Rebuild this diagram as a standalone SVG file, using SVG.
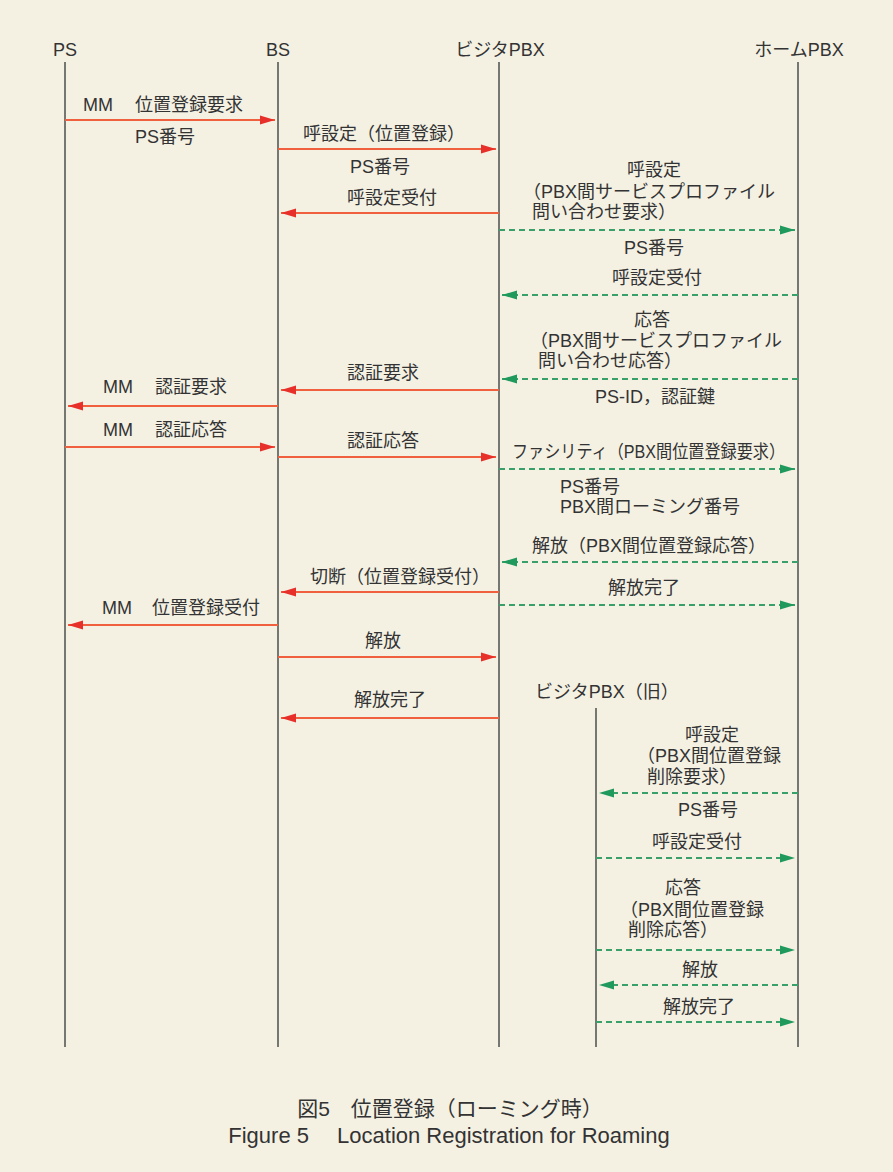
<svg xmlns="http://www.w3.org/2000/svg" width="893" height="1172" viewBox="0 0 893 1172">
<style>
text{font-family:"Liberation Sans","Noto Sans CJK JP",sans-serif;font-size:18px;fill:#333}
.cap{font-size:21px;text-anchor:middle}
.life{stroke:#555a55;stroke-width:1.6;fill:none}
.r{stroke:#f0603e;stroke-width:2;fill:none;marker-end:url(#ar)}
.g{stroke:#3aa06a;stroke-width:1.8;stroke-dasharray:6 4;fill:none;marker-end:url(#ag)}
</style>
<defs>
<marker id="ar" markerUnits="userSpaceOnUse" markerWidth="15" markerHeight="10" refX="15" refY="5" orient="auto"><path d="M0,0.5 L15,5 L0,9.5 z" fill="#e8302a"/></marker>
<marker id="ag" markerUnits="userSpaceOnUse" markerWidth="15" markerHeight="10" refX="15" refY="5" orient="auto"><path d="M0,0.5 L15,5 L0,9.5 z" fill="#1f9a5c"/></marker>
</defs>
<rect width="893" height="1172" fill="#f4f1e3"/>

<g id="ps"><text x="65" y="56" text-anchor="middle">PS</text><line class="life" x1="65" y1="62" x2="65" y2="1047"/></g>
<g id="bs"><text x="278" y="56" text-anchor="middle">BS</text><line class="life" x1="278" y1="62" x2="278" y2="1047"/></g>
<g id="vpbx"><text x="500" y="56" text-anchor="middle">ビジタPBX</text><line class="life" x1="499" y1="62" x2="499" y2="1047"/></g>
<g id="hpbx"><text x="799" y="56" text-anchor="middle">ホームPBX</text><line class="life" x1="798" y1="62" x2="798" y2="1047"/></g>
<g id="oldpbx"><text x="535" y="698">ビジタPBX（旧）</text><line class="life" x1="596" y1="708" x2="596" y2="1047"/></g>

<g id="connectors">
<line class="r" x1="65" y1="120" x2="275" y2="120"/>
<line class="r" x1="278" y1="149" x2="496" y2="149"/>
<line class="r" x1="499" y1="213" x2="281" y2="213"/>
<line class="g" x1="499" y1="230" x2="795" y2="230"/>
<line class="g" x1="798" y1="295" x2="502" y2="295"/>
<line class="g" x1="798" y1="379" x2="502" y2="379"/>
<line class="r" x1="499" y1="390" x2="281" y2="390"/>
<line class="r" x1="278" y1="406" x2="68" y2="406"/>
<line class="r" x1="65" y1="447" x2="275" y2="447"/>
<line class="r" x1="278" y1="457" x2="496" y2="457"/>
<line class="g" x1="499" y1="469" x2="795" y2="469"/>
<line class="g" x1="798" y1="562" x2="502" y2="562"/>
<line class="r" x1="499" y1="592" x2="281" y2="592"/>
<line class="g" x1="499" y1="605" x2="795" y2="605"/>
<line class="r" x1="278" y1="625" x2="68" y2="625"/>
<line class="r" x1="278" y1="657" x2="496" y2="657"/>
<line class="r" x1="499" y1="718" x2="281" y2="718"/>
<line class="g" x1="798" y1="793" x2="599" y2="793"/>
<line class="g" x1="596" y1="858" x2="795" y2="858"/>
<line class="g" x1="596" y1="950" x2="795" y2="950"/>
<line class="g" x1="798" y1="985" x2="599" y2="985"/>
<line class="g" x1="596" y1="1022" x2="795" y2="1022"/>
</g>

<g id="labels">
<text x="83" y="111">MM</text><text x="135" y="111">位置登録要求</text>
<text x="135" y="143">PS番号</text>
<text x="303" y="140">呼設定（位置登録）</text>
<text x="380" y="173" text-anchor="middle">PS番号</text>
<text x="392" y="204" text-anchor="middle">呼設定受付</text>
<text x="654" y="176" text-anchor="middle">呼設定</text>
<text x="523" y="198">（PBX間サービスプロファイル</text>
<text x="532" y="218">問い合わせ要求）</text>
<text x="654" y="254" text-anchor="middle">PS番号</text>
<text x="657" y="284" text-anchor="middle">呼設定受付</text>
<text x="652" y="326" text-anchor="middle">応答</text>
<text x="530" y="347">（PBX間サービスプロファイル</text>
<text x="538" y="367">問い合わせ応答）</text>
<text x="595" y="403">PS-ID，認証鍵</text>
<text x="347" y="379">認証要求</text>
<text x="103" y="393">MM</text><text x="155" y="393">認証要求</text>
<text x="103" y="436">MM</text><text x="155" y="436">認証応答</text>
<text x="347" y="447">認証応答</text>
<text x="512" y="458" textLength="273" lengthAdjust="spacingAndGlyphs">ファシリティ（PBX間位置登録要求）</text>
<text x="560" y="493">PS番号</text>
<text x="560" y="513">PBX間ローミング番号</text>
<text x="532" y="552">解放（PBX間位置登録応答）</text>
<text x="310" y="583">切断（位置登録受付）</text>
<text x="608" y="594">解放完了</text>
<text x="102" y="614">MM</text><text x="152" y="614">位置登録受付</text>
<text x="365" y="647">解放</text>
<text x="354" y="706">解放完了</text>
<text x="685" y="741">呼設定</text>
<text x="637" y="762">（PBX間位置登録</text>
<text x="647" y="783">削除要求）</text>
<text x="678" y="816">PS番号</text>
<text x="652" y="848">呼設定受付</text>
<text x="665" y="894">応答</text>
<text x="620" y="916">（PBX間位置登録</text>
<text x="628" y="936">削除応答）</text>
<text x="682" y="976">解放</text>
<text x="663" y="1013">解放完了</text>
</g>

<g id="caption">
<text class="cap" x="450" y="1116">図5　位置登録（ローミング時）</text>
<text class="cap" x="449" y="1143" style="font-size:22px">Figure 5　 Location Registration for Roaming</text>
</g>
</svg>
